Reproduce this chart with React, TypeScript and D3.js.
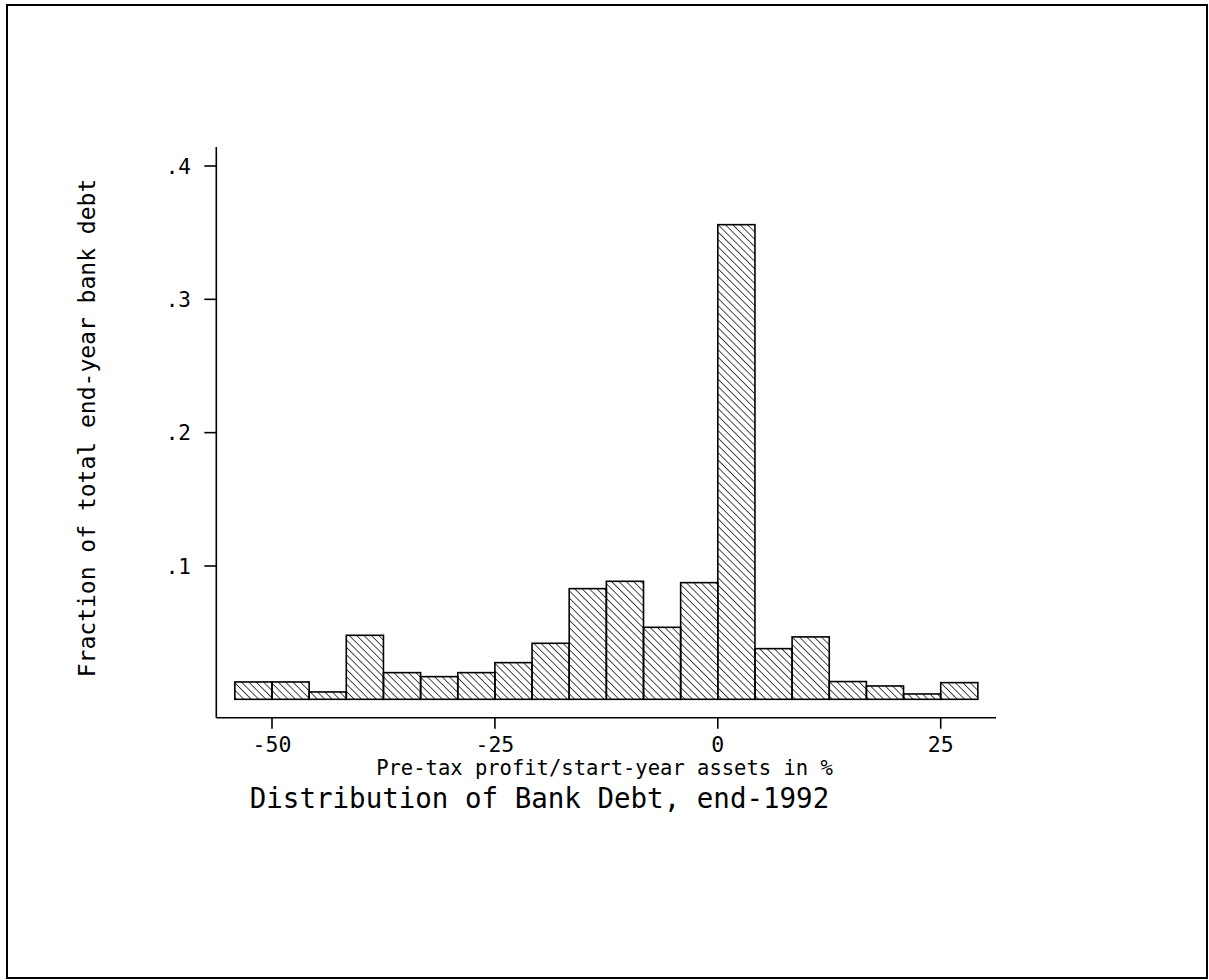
import React, { useRef, useEffect } from 'react';
import * as d3 from 'd3';

// histogram bins: width 25/6 %, first bin starts at -54.17
const binWidth = 25 / 6;
const binLefts = d3.range(20).map((i) => -54.1667 + i * binWidth);
const fractions = [
  0.013, 0.013, 0.0055, 0.048, 0.02, 0.017, 0.02, 0.0275, 0.042, 0.083,
  0.0885, 0.054, 0.0875, 0.356, 0.038, 0.0468, 0.0133, 0.01, 0.004, 0.0125,
];
const xTicks = [-50, -25, 0, 25];
const yTicks = [0.1, 0.2, 0.3, 0.4];
const yTickLabels = ['.1', '.2', '.3', '.4'];

const xLabel = 'Pre-tax profit/start-year assets in %';
const yLabel = 'Fraction of total end-year bank debt';
const title = 'Distribution of Bank Debt, end-1992';

const FONT = '"DejaVu Sans Mono", "Liberation Mono", monospace';

function App() {
  const ref = useRef(null);
  const width = 1209;
  const height = 980;

  useEffect(() => {
    document.body.style.margin = '0';
    const svg = d3.select(ref.current);
    svg.selectAll('*').remove();

    const x = d3.scaleLinear().domain([-50, 25]).range([272, 940.7]);
    const y = d3.scaleLinear().domain([0, 0.4]).range([699.3, 166]);

    const axisX = 216.3;
    const axisY = 717.7;

    const defs = svg.append('defs');
    defs
      .append('pattern')
      .attr('id', 'hatch')
      .attr('patternUnits', 'userSpaceOnUse')
      .attr('width', 5.2)
      .attr('height', 10)
      .attr('patternTransform', 'rotate(-45)')
      .append('line')
      .attr('x1', 0)
      .attr('y1', 0)
      .attr('x2', 0)
      .attr('y2', 10)
      .attr('stroke', '#000')
      .attr('stroke-width', 1.4);

    // outer frame
    svg
      .append('rect')
      .attr('x', 7)
      .attr('y', 5)
      .attr('width', 1200)
      .attr('height', 973)
      .attr('fill', 'none')
      .attr('stroke', '#000')
      .attr('stroke-width', 2);

    const data = binLefts.map((left, i) => ({ left, value: fractions[i] }));

    svg
      .append('g')
      .selectAll('rect')
      .data(data)
      .enter()
      .append('rect')
      .attr('x', (d) => x(d.left))
      .attr('y', (d) => y(d.value))
      .attr('width', (d) => x(d.left + binWidth) - x(d.left))
      .attr('height', (d) => y(0) - y(d.value))
      .attr('fill', 'url(#hatch)')
      .attr('stroke', '#000')
      .attr('stroke-width', 1.6);

    const axes = svg.append('g').attr('stroke', '#000').attr('stroke-width', 1.6);
    axes.append('line').attr('x1', axisX).attr('x2', axisX).attr('y1', 147).attr('y2', axisY);
    axes.append('line').attr('x1', axisX).attr('x2', 996).attr('y1', axisY).attr('y2', axisY);

    axes
      .selectAll('.yt')
      .data(yTicks)
      .enter()
      .append('line')
      .attr('x1', axisX - 12)
      .attr('x2', axisX)
      .attr('y1', (d) => y(d))
      .attr('y2', (d) => y(d));

    axes
      .selectAll('.xt')
      .data(xTicks)
      .enter()
      .append('line')
      .attr('x1', (d) => x(d))
      .attr('x2', (d) => x(d))
      .attr('y1', axisY)
      .attr('y2', axisY + 11);

    const text = svg.append('g').attr('font-family', FONT).attr('fill', '#000');

    text
      .selectAll('.ytl')
      .data(yTicks)
      .enter()
      .append('text')
      .attr('x', 191)
      .attr('y', (d) => y(d))
      .attr('dy', '0.36em')
      .attr('text-anchor', 'end')
      .attr('font-size', 21)
      .text((d, i) => yTickLabels[i]);

    text
      .selectAll('.xtl')
      .data(xTicks)
      .enter()
      .append('text')
      .attr('x', (d) => x(d))
      .attr('y', 752)
      .attr('text-anchor', 'middle')
      .attr('font-size', 21.5)
      .text((d) => String(d));

    text
      .append('text')
      .attr('x', 604.5)
      .attr('y', 775)
      .attr('text-anchor', 'middle')
      .attr('font-size', 20.5)
      .text(xLabel);

    text
      .append('text')
      .attr('transform', 'translate(95,428) rotate(-90)')
      .attr('text-anchor', 'middle')
      .attr('font-size', 23)
      .text(yLabel);

    text
      .append('text')
      .attr('x', 539.5)
      .attr('y', 808)
      .attr('text-anchor', 'middle')
      .attr('font-size', 27.5)
      .text(title);
  }, []);

  return <svg ref={ref} width={width} height={height} style={{ display: 'block', background: '#fff' }}></svg>;
}

export default App;
